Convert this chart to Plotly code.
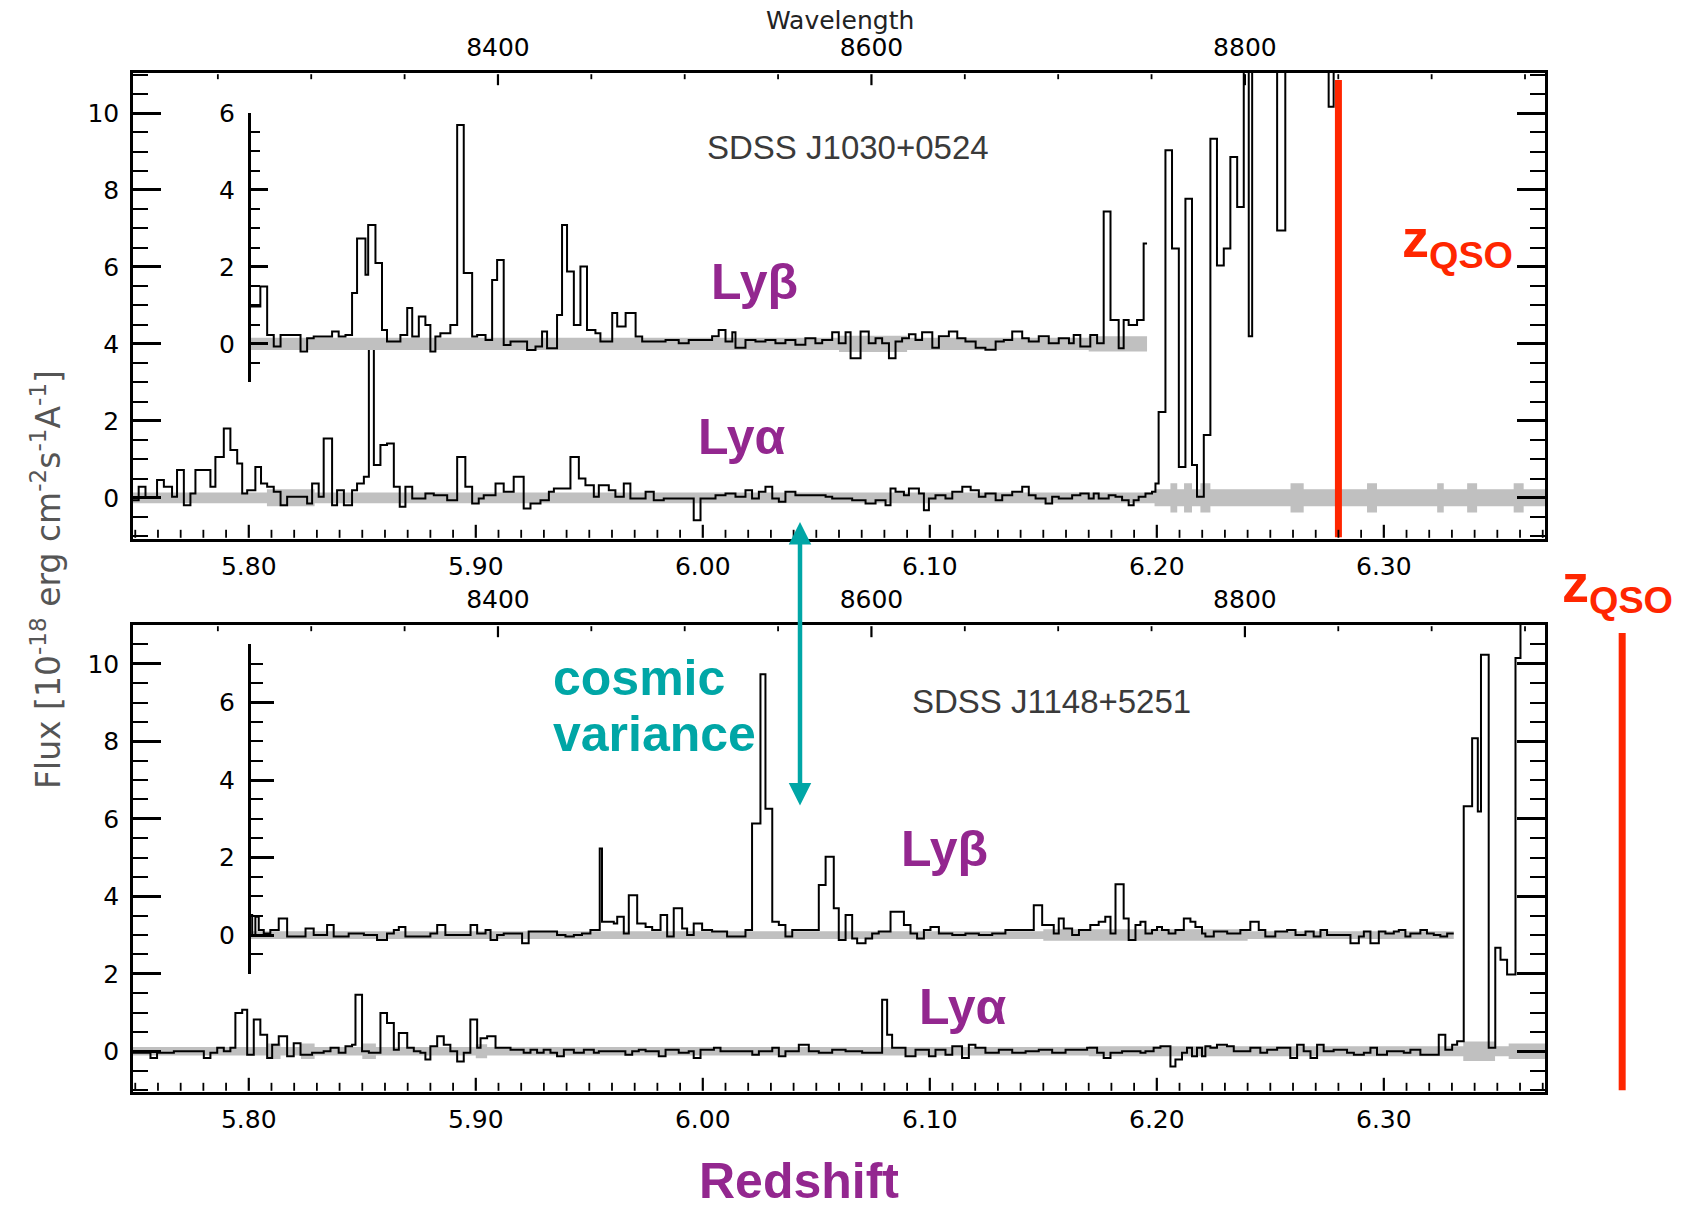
import plotly.graph_objects as go

# ---------------- data ----------------
LYA_REST = 1215.67            # Angstrom, wavelength axis = LYA_REST * (1 + z)
Z_RANGE = [5.749, 6.371]
INSET_Z = 5.80                # position of the Ly-beta inset axis
LYB_OFFSET = [4, 3]           # inset zero sits at main flux 4 (top) and 3 (bottom)
ZQSO = [6.28, 6.405]          # marked quasar redshifts
QSO_NAMES = ["SDSS J1030+0524", "SDSS J1148+5251"]

# --- SDSS J1030+0524, Ly-alpha (bin edges, flux) ---
z_lya1 = [5.749, 5.7515, 5.7545, 5.7596, 5.7626, 5.7662, 5.7684, 5.7714, 5.7743, 5.7765,
          5.7831, 5.7853, 5.789, 5.7919, 5.7949, 5.7971, 5.7993, 5.8029, 5.8054, 5.8081,
          5.811, 5.814, 5.8169, 5.8257, 5.8279, 5.8308, 5.833, 5.8367, 5.8389, 5.8419,
          5.8455, 5.8477, 5.8507, 5.8529, 5.8551, 5.858, 5.8609, 5.8639, 5.8665, 5.869,
          5.872, 5.8778, 5.8815, 5.8874, 5.8918, 5.8954, 5.8984, 5.9013, 5.9035, 5.9087,
          5.9123, 5.9167, 5.9211, 5.9241, 5.9285, 5.9322, 5.9344, 5.9417, 5.9454, 5.9483,
          5.952, 5.9542, 5.9586, 5.9615, 5.9652, 5.9681, 5.9748, 5.9784, 5.9828, 5.996,
          5.999, 6.0056, 6.01, 6.0144, 6.0188, 6.0217, 6.0247, 6.0276, 6.0306, 6.0335,
          6.0364, 6.0408, 6.0541, 6.057, 6.0658, 6.0717, 6.0761, 6.0805, 6.0827, 6.0849,
          6.0886, 6.0908, 6.0952, 6.0974, 6.0996, 6.1025, 6.1069, 6.1099, 6.1143, 6.118,
          6.1216, 6.1245, 6.129, 6.1319, 6.1363, 6.1407, 6.1436, 6.1466, 6.151, 6.1539,
          6.1568, 6.1627, 6.1663, 6.17, 6.1722, 6.1744, 6.1788, 6.1818, 6.1847, 6.1876,
          6.1898, 6.192, 6.195, 6.1979, 6.1994, 6.2008, 6.2038, 6.2067, 6.2097, 6.2126,
          6.2155, 6.2177, 6.2207, 6.2236, 6.2265, 6.2295, 6.2324, 6.2354, 6.2383, 6.2405,
          6.242, 6.253, 6.2566, 6.2757, 6.2779, 6.371]
f_lya1 = [-0.06, 0.29, 0.0, 0.46, 0.29, 0.03, 0.72, -0.19, 0.11, 0.72,
          0.29, 1.06, 1.8, 1.24, 0.89, 0.11, 0.2, 0.8, 0.37, 0.29,
          0.16, -0.19, 0.03, -0.15, 0.37, 0.03, 1.54, -0.19, 0.2, -0.19,
          0.2, 0.37, 0.55, 3.9, 0.85, 1.37, 1.41, 0.29, -0.23, 0.29,
          -0.02, 0.11, 0.07, -0.06, 1.06, 0.29, -0.15, -0.02, 0.07, 0.37,
          0.16, 0.55, -0.28, -0.15, -0.06, 0.16, 0.24, 1.06, 0.5, 0.33,
          0.03, 0.33, 0.2, 0.03, 0.37, -0.02, 0.16, -0.06, -0.02, -0.58,
          -0.02, 0.07, 0.11, 0.03, 0.2, -0.02, 0.16, 0.29, -0.02, -0.1,
          0.16, 0.07, 0.03, -0.02, -0.06, -0.15, -0.06, -0.19, 0.24, 0.16,
          0.07, 0.24, 0.11, -0.32, -0.02, 0.07, -0.02, 0.16, 0.29, 0.2,
          0.03, 0.11, -0.06, 0.07, 0.16, 0.29, 0.07, -0.02, -0.15, 0.03,
          -0.02, 0.07, 0.11, -0.02, 0.11, -0.02, 0.07, 0.03, -0.06, -0.19,
          -0.06, 0.03, 0.11, 0.16, 0.37, 2.23, 9.03, 6.48, 0.8, 7.77,
          0.85, 0.03, 1.63, 9.33, 6.04, 6.48, 8.86, 7.56, 12.5, 4.2,
          12.5, 6.95, 12.5, 10.16, 12.5]

# --- SDSS J1030+0524, Ly-beta (inset scale) ---
z_lyb1 = [5.80, 5.8051, 5.8081, 5.811, 5.814, 5.8228, 5.8257, 5.8286, 5.8367, 5.8396,
          5.8426, 5.8455, 5.8477, 5.8514, 5.8526, 5.8558, 5.8587, 5.8609, 5.8668, 5.8698,
          5.872, 5.8749, 5.8778, 5.88, 5.8822, 5.8844, 5.8888, 5.8918, 5.8947, 5.8984,
          5.9006, 5.9043, 5.9072, 5.9094, 5.9123, 5.9153, 5.9226, 5.9263, 5.9292, 5.9314,
          5.9358, 5.938, 5.9402, 5.9432, 5.9461, 5.949, 5.9527, 5.9549, 5.9601, 5.9623,
          5.966, 5.9704, 5.9733, 5.9836, 5.9894, 5.9938, 6.0041, 6.007, 6.01, 6.013,
          6.0144, 6.0188, 6.0232, 6.0276, 6.032, 6.0364, 6.0408, 6.0452, 6.0496, 6.0526,
          6.057, 6.0599, 6.0629, 6.0651, 6.0695, 6.0731, 6.0761, 6.079, 6.082, 6.0849,
          6.0878, 6.0908, 6.0937, 6.0966, 6.1011, 6.104, 6.1084, 6.1121, 6.1157, 6.1202,
          6.1245, 6.129, 6.1326, 6.1363, 6.1407, 6.1436, 6.148, 6.1524, 6.1568, 6.1613,
          6.1634, 6.1663, 6.1707, 6.1737, 6.1766, 6.1796, 6.1832, 6.1854, 6.1876, 6.1913,
          6.1942, 6.1957]
f_lyb1 = [0.97, 1.49, 0.23, -0.07, 0.23, -0.2, 0.15, 0.19, 0.32, 0.19,
          0.23, 1.32, 2.74, 1.8, 3.09, 2.1, 0.36, 0.06, 0.23, 0.93,
          0.19, 0.71, 0.49, -0.2, 0.19, 0.28, 0.49, 5.69, 1.84, 0.19,
          0.23, 0.1, 1.66, 2.18, -0.03, 0.06, -0.16, -0.07, 0.32, -0.11,
          0.75, 3.09, 1.88, 0.49, 2.01, 0.36, 0.28, 0.06, 0.8, 0.45,
          0.8, 0.19, 0.06, 0.1, 0.02, 0.1, 0.2, 0.36, 0.06, 0.3,
          -0.1, 0.1, 0.06, 0.1, 0.02, 0.1, -0.02, 0.15, 0.02, 0.1,
          0.3, 0.02, 0.3, -0.37, 0.32, 0.02, 0.15, 0.02, -0.37, 0.06,
          0.15, 0.25, 0.1, 0.3, -0.1, 0.2, 0.32, 0.15, 0.06, -0.1,
          -0.15, 0.06, 0.1, 0.32, 0.15, 0.06, 0.2, 0.02, 0.15, 0.02,
          0.23, -0.07, 0.23, 0.02, 3.44, 0.62, -0.11, 0.62, 0.49, 0.62,
          2.61]

# --- SDSS J1148+5251, Ly-alpha ---
z_lya2 = [5.749, 5.7567, 5.7596, 5.767, 5.7802, 5.7831, 5.7861, 5.789, 5.7919, 5.7941,
          5.7971, 5.7993, 5.8022, 5.8051, 5.8081, 5.8103, 5.8132, 5.8169, 5.8198, 5.8228,
          5.8279, 5.833, 5.836, 5.8396, 5.8426, 5.8455, 5.847, 5.8499, 5.8529, 5.858,
          5.8609, 5.8639, 5.8661, 5.8698, 5.8727, 5.8756, 5.8778, 5.88, 5.883, 5.8859,
          5.8888, 5.8918, 5.8947, 5.8976, 5.9006, 5.9021, 5.905, 5.9087, 5.9153, 5.9211,
          5.9241, 5.927, 5.9299, 5.9329, 5.9358, 5.9388, 5.9432, 5.9476, 5.952, 5.9542,
          5.9659, 5.9689, 5.9718, 5.9748, 5.9806, 5.9836, 5.9894, 5.9938, 5.996, 5.999,
          6.0049, 6.0078, 6.0218, 6.0247, 6.0306, 6.0335, 6.0364, 6.0423, 6.0467, 6.0511,
          6.057, 6.0629, 6.0702, 6.079, 6.0812, 6.0834, 6.0893, 6.0937, 6.0996, 6.1025,
          6.1069, 6.1099, 6.1142, 6.1172, 6.1201, 6.1245, 6.1304, 6.1363, 6.1422, 6.148,
          6.1539, 6.1598, 6.1634, 6.1693, 6.1737, 6.1766, 6.1796, 6.1847, 6.1928, 6.195,
          6.1986, 6.2016, 6.206, 6.2082, 6.2111, 6.2133, 6.2155, 6.2177, 6.2199, 6.2214,
          6.2236, 6.2265, 6.2309, 6.2339, 6.2412, 6.2456, 6.2486, 6.253, 6.2588, 6.2618,
          6.2647, 6.2677, 6.2706, 6.2735, 6.2779, 6.2838, 6.2868, 6.2912, 6.2941, 6.297,
          6.3014, 6.3088, 6.3117, 6.3161, 6.3242, 6.3271, 6.3301, 6.3323, 6.3352, 6.3389,
          6.3414, 6.3428, 6.3462, 6.3491, 6.3514, 6.3543, 6.358, 6.3602, 6.371]
f_lya2 = [-0.04, -0.17, -0.04, 0.0, -0.17, -0.04, 0.09, 0.0, 0.09, 0.99,
          1.07, -0.09, 0.82, 0.43, -0.17, 0.17, 0.39, -0.13, 0.21, -0.09,
          -0.04, 0.0, 0.09, -0.04, 0.13, 0.17, 1.46, 0.0, -0.04, 0.99,
          0.73, 0.04, 0.47, 0.09, 0.0, -0.04, -0.21, 0.13, 0.39, 0.17,
          0.0, -0.26, -0.04, 0.82, 0.09, 0.34, 0.39, 0.09, 0.04, -0.04,
          0.04, -0.04, 0.04, -0.04, -0.13, 0.04, -0.04, 0.04, -0.04, 0.0,
          -0.09, 0.0, 0.04, 0.0, -0.13, 0.04, -0.04, 0.0, -0.17, 0.04,
          0.09, 0.0, -0.09, 0.0, 0.09, -0.13, 0.0, 0.17, 0.0, -0.04,
          0.04, 0.0, -0.04, 1.33, 0.43, 0.09, -0.13, 0.04, -0.13, 0.04,
          -0.09, 0.13, -0.17, 0.17, 0.09, -0.04, 0.04, -0.04, 0.0, 0.04,
          -0.04, 0.04, 0.04, 0.09, -0.04, -0.17, -0.04, 0.0, -0.04, 0.0,
          0.09, 0.13, -0.39, -0.21, -0.04, 0.09, -0.13, 0.09, -0.13, 0.13,
          0.09, 0.17, 0.13, 0.0, 0.09, -0.04, 0.04, 0.09, -0.17, 0.17,
          0.0, -0.17, 0.17, 0.0, 0.04, -0.04, -0.09, -0.04, 0.09, -0.09,
          0.0, -0.04, 0.04, -0.09, 0.43, 0.04, 0.17, 0.26, 6.32, 8.08,
          6.19, 10.23, 0.09, 2.67, 2.36, 1.98, 10.15, 12.5]

# --- SDSS J1148+5251, Ly-beta (inset scale) ---
z_lyb2 = [5.80, 5.8015, 5.8029, 5.8044, 5.8066, 5.8095, 5.8132, 5.8169, 5.825, 5.8286,
          5.8345, 5.8374, 5.844, 5.8507, 5.8565, 5.8609, 5.8639, 5.8661, 5.869, 5.88,
          5.883, 5.8866, 5.8977, 5.9006, 5.9043, 5.9065, 5.9094, 5.9123, 5.9204, 5.9233,
          5.9358, 5.9395, 5.9432, 5.9468, 5.9505, 5.9546, 5.9556, 5.9608, 5.9623, 5.9652,
          5.9674, 5.9711, 5.9748, 5.9777, 5.9814, 5.9843, 5.9872, 5.9909, 5.9931, 5.996,
          5.9997, 6.0041, 6.0107, 6.0188, 6.0217, 6.0254, 6.0276, 6.0306, 6.0335, 6.0364,
          6.0394, 6.0511, 6.0541, 6.0577, 6.0599, 6.0629, 6.0658, 6.068, 6.0717, 6.0746,
          6.0775, 6.0827, 6.0886, 6.0915, 6.0944, 6.0974, 6.1003, 6.104, 6.1099, 6.1157,
          6.1216, 6.1275, 6.1333, 6.1458, 6.1495, 6.1546, 6.1568, 6.159, 6.1627, 6.1657,
          6.1707, 6.1744, 6.1773, 6.1796, 6.1818, 6.1854, 6.1876, 6.1906, 6.1928, 6.195,
          6.1979, 6.2001, 6.2023, 6.2052, 6.2082, 6.2119, 6.2148, 6.217, 6.2199, 6.2214,
          6.2251, 6.231, 6.2368, 6.2412, 6.2449, 6.2478, 6.2522, 6.2574, 6.2611, 6.2655,
          6.2691, 6.2721, 6.275, 6.2853, 6.289, 6.2912, 6.2941, 6.2978, 6.3007, 6.3044,
          6.3066, 6.3095, 6.3117, 6.3161, 6.319, 6.322, 6.3249, 6.3279, 6.3308]
f_lyb2 = [0.52, 0.0, 0.47, 0.13, 0.04, 0.13, 0.43, -0.04, 0.17, 0.0,
          0.26, -0.04, 0.04, 0.0, -0.13, 0.04, 0.13, 0.21, -0.04, 0.04,
          0.26, 0.0, 0.26, 0.04, 0.13, -0.13, 0.0, 0.04, -0.21, 0.09,
          0.0, -0.04, 0.0, 0.04, 0.13, 2.23, 0.34, 0.3, 0.47, 0.04,
          1.03, 0.3, 0.21, 0.13, 0.52, -0.04, 0.69, 0.17, 0.0, 0.3,
          0.13, 0.09, -0.04, 0.13, 2.88, 6.73, 3.26, 0.34, 0.26, -0.04,
          0.13, 1.29, 2.02, 0.69, -0.13, 0.52, -0.09, -0.21, -0.09, 0.04,
          0.09, 0.6, 0.26, 0.04, -0.09, 0.13, 0.21, 0.04, 0.0, 0.04,
          0.0, 0.04, 0.13, 0.77, 0.26, 0.04, 0.43, 0.17, 0.0, 0.13,
          0.26, 0.34, 0.47, 0.04, 1.31, 0.43, -0.13, 0.26, 0.34, 0.04,
          0.13, 0.21, 0.13, 0.04, 0.13, 0.43, 0.34, 0.21, 0.04, -0.04,
          0.09, 0.04, 0.13, 0.34, 0.13, -0.04, 0.09, 0.13, 0.0, 0.09,
          -0.04, 0.13, 0.0, -0.21, -0.04, 0.09, -0.21, 0.09, 0.04, 0.09,
          0.13, -0.04, 0.04, 0.13, 0.04, 0.0, -0.04, 0.04]

# --- 1-sigma noise (grey bands): bin edges and half-widths ---
ze_lya1 = [5.749, 5.808, 5.829, 6.199, 6.206, 6.209, 6.212, 6.2155, 6.2192, 6.2236, 6.2589,
           6.2647, 6.2926, 6.297, 6.3235, 6.3264, 6.3367, 6.3411, 6.3572, 6.3616, 6.371]
e_lya1 = [0.14, 0.22, 0.14, 0.22, 0.38, 0.22, 0.38, 0.22, 0.38, 0.22,
          0.38, 0.22, 0.38, 0.22, 0.38, 0.22, 0.38, 0.22, 0.38, 0.22]
ze_lyb1 = [5.80, 6.06, 6.09, 6.17, 6.1957]
e_lyb1 = [0.16, 0.21, 0.16, 0.2]
ze_lya2 = [5.749, 5.808, 5.814, 5.823, 5.829, 5.850, 5.856, 5.900, 5.905, 6.17,
           6.335, 6.349, 6.355, 6.371]
e_lya2 = [0.11, 0.2, 0.11, 0.2, 0.11, 0.2, 0.11, 0.18, 0.11, 0.13, 0.25, 0.13, 0.2]
ze_lyb2 = [5.80, 6.15, 6.24, 6.3308]
e_lyb2 = [0.1, 0.15, 0.1]

# axis tick spacing (as printed on the figure)
Z_MAJOR, Z_MINOR = 0.1, 0.01
LAM_MAJOR, LAM_MINOR = 200, 50

# ---------------- layout geometry ----------------
W, H = 1689, 1207
def px(x):
    return x / W
def py(y):
    return 1 - y / H

XDOM = [px(133), px(1545)]
YDOM_MAIN = [[py(539), py(73)], [py(1092), py(625)]]
YRANGE_MAIN = [[-1.07, 11.04], [-1.05, 11.0]]
INSET_RANGE = [[-1, 6], [-1, 7.5]]
INSET_TICKLEN = [(17, 9), (23, 12)]

BLACK = "#000000"
GREY = "#C0C0C0"
PURPLE = "#93278F"
TEAL = "#00A6A6"
RED = "#FF2600"
TICKFONT = dict(family="DejaVu Sans", size=25, color="black")
ANNFONT = "Liberation Sans, Arial, sans-serif"

fig = go.Figure()

def step(edges, vals):
    return list(edges), list(vals) + [vals[-1]]

def add_band(edges, errs, xa, ya):
    x, e = step(edges, errs)
    fig.add_trace(go.Scatter(x=x, y=[-v for v in e], mode="lines",
                             line=dict(width=0, shape="hv", color=GREY),
                             xaxis=xa, yaxis=ya, showlegend=False, hoverinfo="skip"))
    fig.add_trace(go.Scatter(x=x, y=e, mode="lines", fill="tonexty", fillcolor=GREY,
                             line=dict(width=0, shape="hv", color=GREY),
                             xaxis=xa, yaxis=ya, showlegend=False, hoverinfo="skip"))

def add_spec(edges, vals, xa, ya, name):
    x, y = step(edges, vals)
    fig.add_trace(go.Scatter(x=x, y=y, mode="lines", name=name,
                             line=dict(width=2, shape="hv", color=BLACK),
                             xaxis=xa, yaxis=ya, showlegend=False))

# top panel (J1030): Ly-alpha on x/y, Ly-beta inset on hidden x5 / y3
add_band(ze_lya1, e_lya1, "x", "y")
add_band(ze_lyb1, e_lyb1, "x5", "y3")
add_spec(z_lya1, f_lya1, "x", "y", QSO_NAMES[0] + " Lya")
add_spec(z_lyb1, f_lyb1, "x5", "y3", QSO_NAMES[0] + " Lyb")
# bottom panel (J1148): Ly-alpha on x3/y2, Ly-beta inset on hidden x6 / y4
add_band(ze_lya2, e_lya2, "x3", "y2")
add_band(ze_lyb2, e_lyb2, "x6", "y4")
add_spec(z_lya2, f_lya2, "x3", "y2", QSO_NAMES[1] + " Lya")
add_spec(z_lyb2, f_lyb2, "x6", "y4", QSO_NAMES[1] + " Lyb")

lam_range = [LYA_REST * (1 + z) for z in Z_RANGE]
for xa, ya in (("x2", "y"), ("x4", "y2")):
    fig.add_trace(go.Scatter(x=lam_range, y=[0, 0], mode="markers",
                             marker=dict(opacity=0), xaxis=xa, yaxis=ya,
                             showlegend=False, hoverinfo="skip"))

def z_frac(z):
    return (z - Z_RANGE[0]) / (Z_RANGE[1] - Z_RANGE[0])

inset_x = XDOM[0] + z_frac(INSET_Z) * (XDOM[1] - XDOM[0])

def inset_domain(i):
    d0, d1 = YDOM_MAIN[i]
    m0, m1 = YRANGE_MAIN[i]
    r0, r1 = INSET_RANGE[i]
    off = LYB_OFFSET[i]
    return [d0 + (r0 + off - m0) / (m1 - m0) * (d1 - d0),
            d0 + (r1 + off - m0) / (m1 - m0) * (d1 - d0)]

def zaxis(anchor):
    return dict(domain=XDOM, anchor=anchor, range=Z_RANGE, showgrid=False, zeroline=False,
                showline=True, linecolor="black", linewidth=2.5, mirror=True, ticks="",
                tick0=5.8, dtick=Z_MAJOR, tickformat=".2f", tickfont=TICKFONT,
                ticklabelstandoff=3, automargin=False)

def lamaxis(over, anchor):
    return dict(overlaying=over, anchor=anchor, side="top", range=lam_range,
                showgrid=False, zeroline=False, showline=True, linecolor="black",
                linewidth=2.5, ticks="", tick0=8400, dtick=LAM_MAJOR, tickfont=TICKFONT,
                ticklabelstandoff=4, automargin=False)

def hidden_x(anchor):
    return dict(domain=XDOM, anchor=anchor, range=Z_RANGE, visible=False,
                showgrid=False, zeroline=False, automargin=False)

def mainy(i, anchor):
    return dict(domain=YDOM_MAIN[i], anchor=anchor, range=YRANGE_MAIN[i],
                showgrid=False, zeroline=False, showline=True, linecolor="black",
                linewidth=2.5, mirror="ticks", ticks="inside", ticklen=28, tickwidth=2.5,
                tickcolor="black", tick0=0, dtick=2, tickfont=TICKFONT,
                ticklabelstandoff=6, automargin=False,
                minor=dict(ticks="inside", dtick=0.5, ticklen=15, tickwidth=2.2,
                           tickcolor="black", showgrid=False))

def insety(i):
    big, small = INSET_TICKLEN[i]
    return dict(domain=inset_domain(i), anchor="free", position=inset_x, side="left",
                range=INSET_RANGE[i], showgrid=False, zeroline=False, showline=True,
                linecolor="black", linewidth=2.5, ticks="inside", ticklen=big,
                tickwidth=2.5, tickcolor="black", tickvals=[0, 2, 4, 6],
                tickfont=TICKFONT, ticklabelstandoff=8, automargin=False,
                minor=dict(ticks="inside", dtick=0.5, ticklen=small, tickwidth=2.2,
                           tickcolor="black", showgrid=False))

annotations = [
    dict(text="Wavelength", x=px(840), y=py(21), font=dict(family="DejaVu Sans", size=25, color="#222")),
    dict(text=QSO_NAMES[0], x=px(848), y=py(148), font=dict(family=ANNFONT, size=33, color="#3a3a3a")),
    dict(text=QSO_NAMES[1], x=px(1051), y=py(701), font=dict(family=ANNFONT, size=33, color="#3a3a3a")),
    dict(text="<b>Lyβ</b>", x=px(754), y=py(282), font=dict(family=ANNFONT, size=50, color=PURPLE)),
    dict(text="<b>Lyα</b>", x=px(741), y=py(437), font=dict(family=ANNFONT, size=50, color=PURPLE)),
    dict(text="<b>Lyβ</b>", x=px(944), y=py(849), font=dict(family=ANNFONT, size=50, color=PURPLE)),
    dict(text="<b>Lyα</b>", x=px(962), y=py(1007), font=dict(family=ANNFONT, size=50, color=PURPLE),
         bgcolor="white", borderpad=2),
    dict(text="<b>z<sub>QSO</sub></b>", x=px(1457), y=py(242), font=dict(family=ANNFONT, size=54, color=RED)),
    dict(text="<b>z<sub>QSO</sub></b>", x=px(1617), y=py(587), font=dict(family=ANNFONT, size=54, color=RED)),
    dict(text="<b>cosmic</b>", x=px(551), y=py(678), xanchor="left", font=dict(family=ANNFONT, size=50, color=TEAL)),
    dict(text="<b>variance</b>", x=px(551), y=py(734), xanchor="left", font=dict(family=ANNFONT, size=50, color=TEAL)),
    dict(text="<b>Redshift</b>", x=px(799), y=py(1181), font=dict(family=ANNFONT, size=50, color=PURPLE)),
    dict(text="Flux [10<sup>-18</sup> erg cm<sup>-2</sup>s<sup>-1</sup>A<sup>-1</sup>]",
         x=px(46), y=py(580), textangle=-90, font=dict(family="DejaVu Sans", size=33, color="#555")),
]
for a in annotations:
    a.setdefault("xref", "paper")
    a.setdefault("yref", "paper")
    a.setdefault("xanchor", "center")
    a.setdefault("yanchor", "middle")
    a["showarrow"] = False

# cosmic-variance double arrow
annotations.append(dict(x=px(800), y=py(522), xref="paper", yref="paper", ax=0, ay=285,
                        axref="pixel", ayref="pixel", text="", showarrow=True,
                        arrowhead=2, arrowside="end+start", arrowwidth=4.5, arrowsize=1,
                        arrowcolor=TEAL, standoff=0, startstandoff=0))

shapes = []
# z_QSO markers
for i, (zq, ytop) in enumerate(zip(ZQSO, [0.985, 0.983])):
    xr = "x domain" if i == 0 else "x3 domain"
    yr = "y domain" if i == 0 else "y2 domain"
    shapes.append(dict(type="line", xref=xr, yref=yr, x0=z_frac(zq), x1=z_frac(zq),
                       y0=0.004, y1=ytop, line=dict(color=RED, width=7)))

# inward tick marks on the redshift (bottom) and wavelength (top) axes,
# lengths given in pixels and converted to fractions of each panel's height
def tick(xr, yr, frac, at_top, length_px, width, panel_h):
    pad = 1.2 / panel_h
    ln = length_px / panel_h
    if at_top:
        y0, y1 = 1 - pad, 1 - pad - ln
    else:
        y0, y1 = pad, pad + ln
    return dict(type="line", xref=xr, yref=yr, x0=frac, x1=frac, y0=y0, y1=y1,
                line=dict(color="black", width=width), layer="above")

z_ticks = [round(k * Z_MINOR, 2) for k in range(int(Z_RANGE[0] / Z_MINOR) + 1,
                                               int(Z_RANGE[1] / Z_MINOR) + 1)]
lam_ticks = [k * LAM_MINOR for k in range(int(lam_range[0] // LAM_MINOR) + 1,
                                          int(lam_range[1] // LAM_MINOR) + 1)]
for i, (xr, yr) in enumerate((("x domain", "y domain"), ("x3 domain", "y2 domain"))):
    panel_h = (YDOM_MAIN[i][1] - YDOM_MAIN[i][0]) * H
    for zt in z_ticks:
        major = abs(zt / Z_MAJOR - round(zt / Z_MAJOR)) < 1e-6
        shapes.append(tick(xr, yr, z_frac(zt), False, 13 if major else 8,
                           2.2 if major else 1.8, panel_h))
    for lt in lam_ticks:
        major = lt % LAM_MAJOR == 0
        shapes.append(tick(xr, yr, z_frac(lt / LYA_REST - 1), True, 11 if major else 5,
                           2.2 if major else 1.8, panel_h))

fig.update_layout(
    width=W, height=H, margin=dict(l=0, r=0, t=0, b=0, autoexpand=False),
    paper_bgcolor="white", plot_bgcolor="rgba(0,0,0,0)",
    xaxis=zaxis("y"), xaxis2=lamaxis("x", "y"),
    xaxis3=zaxis("y2"), xaxis4=lamaxis("x3", "y2"),
    xaxis5=hidden_x("y3"), xaxis6=hidden_x("y4"),
    yaxis=mainy(0, "x"), yaxis2=mainy(1, "x3"),
    yaxis3=insety(0), yaxis4=insety(1),
    annotations=annotations, shapes=shapes, showlegend=False,
)

fig.write_html("out.html")
